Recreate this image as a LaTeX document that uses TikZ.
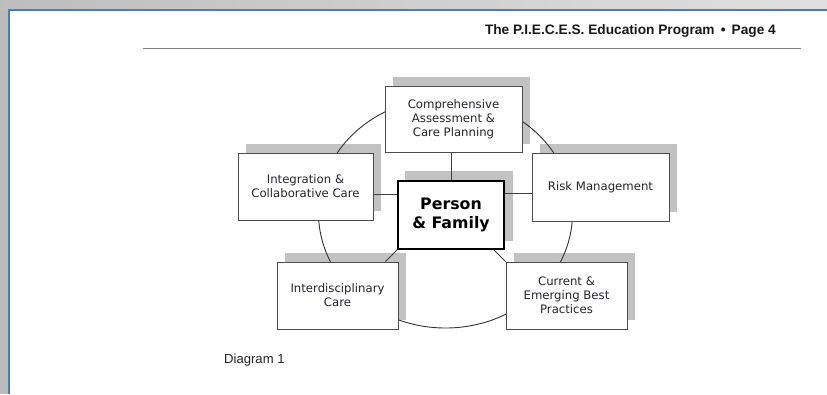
\documentclass[tikz,border=0pt]{standalone}
\usepackage{fontspec}
\setmainfont{DejaVu Sans}
\newfontfamily\arialfont{Liberation Sans}
\usetikzlibrary{backgrounds,calc}
\pgfdeclarelayer{page}
\pgfsetlayers{page,background,main}
\definecolor{frameblue}{HTML}{4A7EBB}
\definecolor{pagegray}{HTML}{BABABA}
\definecolor{shadowgray}{HTML}{C2C2C2}
\definecolor{boxtext}{HTML}{25252F}
\begin{document}
\begin{tikzpicture}[x=1pt,y=-1pt,
  topic/.style={draw=black!70, line width=0.9pt, fill=white, text=boxtext,
    align=center, inner sep=0pt, font=\fontsize{11.7}{14}\selectfont},
  hub/.style={draw=black, line width=1.3pt, fill=white, align=center,
    inner sep=0pt, font=\fontsize{15.8}{19.5}\selectfont\bfseries},
  spoke/.style={draw=black!75, line width=0.9pt},
  boxshadow/.style={fill=shadowgray}]
\useasboundingbox (0,0) rectangle (827,394);
% window frame and page
\begin{pgfonlayer}{page}
  \fill[pagegray] (0,0) rectangle (827,394);
  \shade[left color=pagegray!95!white, right color=black!12] (0,0) rectangle (827,10);
  \fill[white] (9,10) rectangle (827,394);
  \draw[frameblue, line width=2pt] (9,394) -- (9,10) -- (827,10);
\end{pgfonlayer}
% running header
\node[anchor=base east, font=\arialfont\fontsize{13.7}{15}\selectfont\bfseries, text=black!90, inner sep=0pt]
  (header) at (776,34) {The P.I.E.C.E.S. Education Program\, \textbullet\, Page 4};
\coordinate (ruleL) at (143,48.5);
\coordinate (ruleR) at (801,48.5);
\draw[black!50, line width=1.4pt] (ruleL) -- (ruleR);
% boxes
\node[topic, minimum width=137pt, minimum height=66pt] (cap) at (453.5,119.5)
  {Comprehensive\\Assessment \&\\Care Planning};
\node[topic, minimum width=135pt, minimum height=67pt] (icc) at (305.5,186.5)
  {Integration \&\\Collaborative Care};
\node[topic, minimum width=137pt, minimum height=68pt] (risk) at (600.5,187)
  {Risk Management};
\node[topic, minimum width=121pt, minimum height=67pt] (idc) at (337.5,295.5)
  {Interdisciplinary\\Care};
\node[topic, minimum width=121pt, minimum height=67pt] (ebp) at (566.5,295.5)
  {Current \&\\Emerging Best\\Practices};
\node[hub, minimum width=106pt, minimum height=68pt] (pf) at (451,215)
  {Person\\\& Family};
% shadows and the ring behind the boxes
\begin{scope}[on background layer]
  \foreach \b in {cap,icc,risk,idc,ebp,pf}
    \fill[boxshadow] ([shift={(8pt,9pt)}]\b.south west) rectangle ([shift={(8pt,9pt)}]\b.north east);
  \draw[black!80, line width=0.9pt] (445.5,213) ellipse [x radius=127, y radius=115];
  % spokes from the centre box
  \draw[spoke] (pf.north) -- (pf.north |- cap.south);
  \draw[spoke] ([yshift=21pt]pf.west) -- ([yshift=21pt]pf.west -| icc.east);
  \draw[spoke] ([yshift=22pt]pf.east) -- ([yshift=22pt]pf.east -| risk.west);
  \draw[spoke] (pf.south west) -- ([xshift=-13pt]idc.north east);
  \draw[spoke] ([xshift=-11pt]pf.south east) -- (ebp.north west);
\end{scope}
% caption
\node[anchor=base west, font=\arialfont\fontsize{13.1}{15}\selectfont, text=black!85, inner sep=0pt]
  (caption) at (224,363) {Diagram 1};
\end{tikzpicture}
\end{document}
